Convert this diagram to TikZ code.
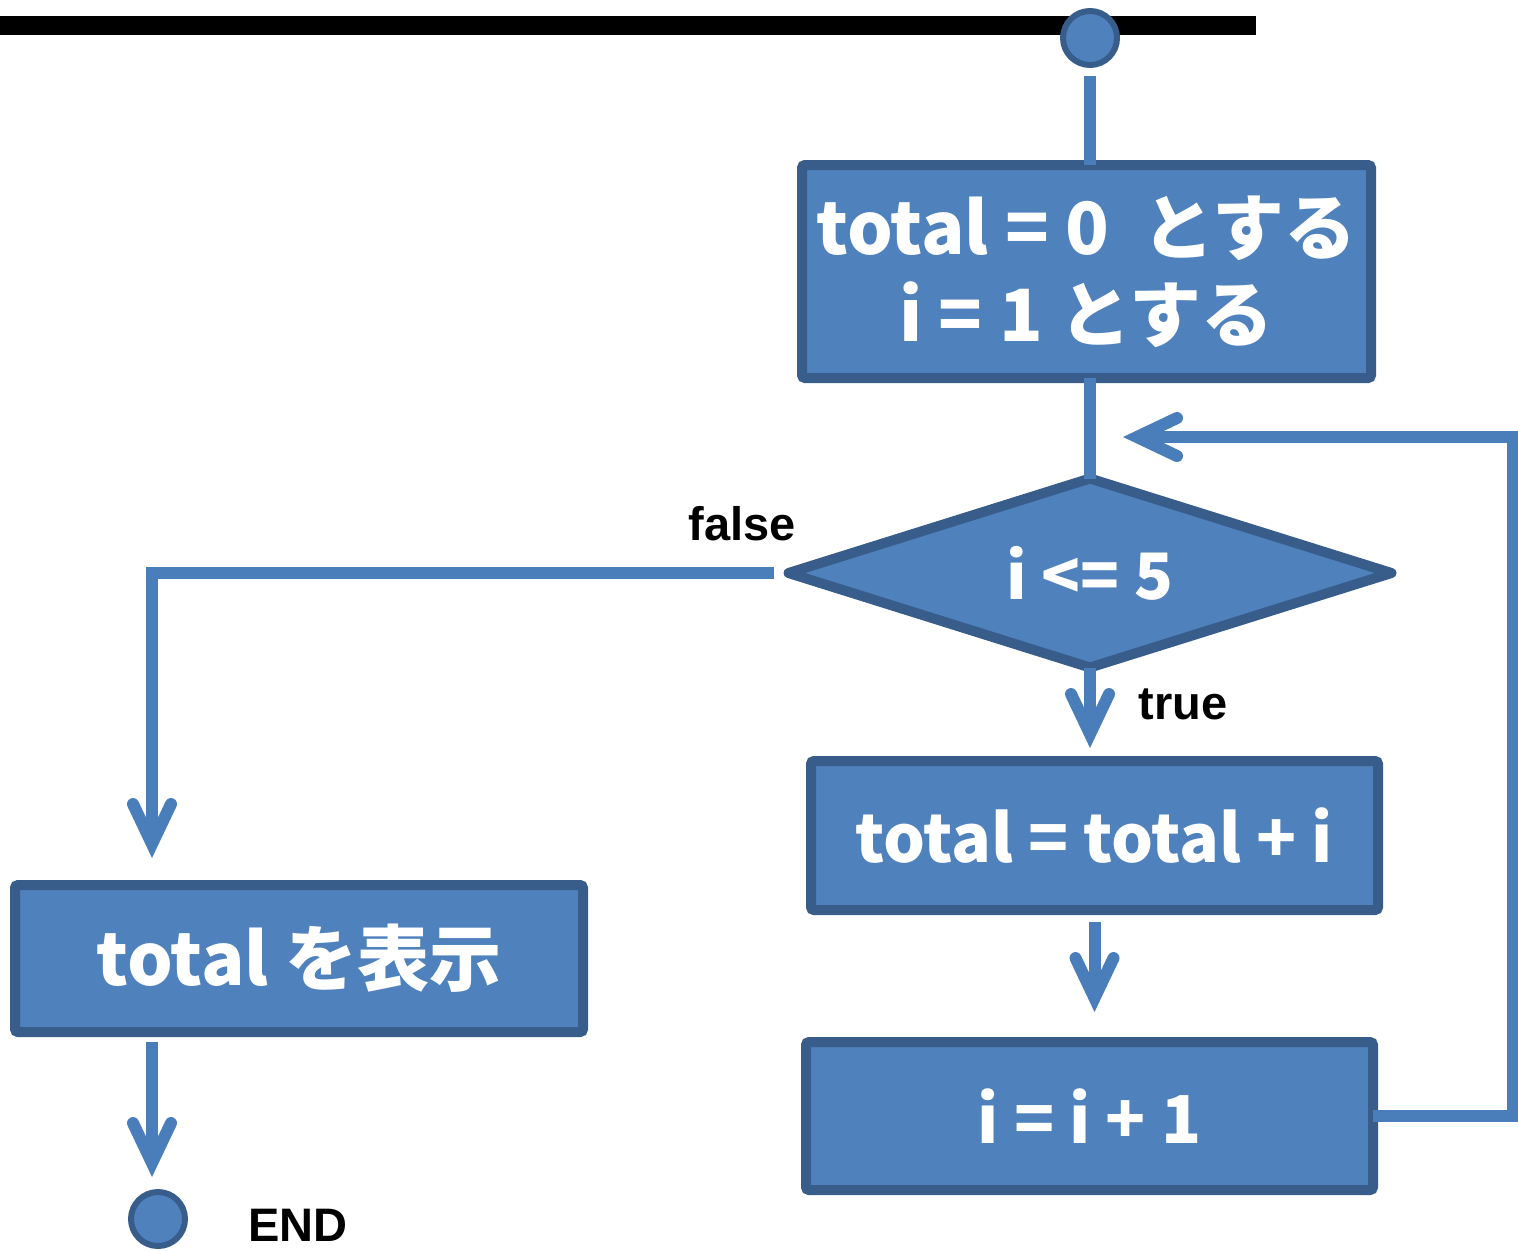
\documentclass[tikz,border=0pt]{standalone}
\usepackage{fontspec}
\setmainfont{Liberation Sans}
\newfontfamily\jp{Noto Sans CJK JP}
\usetikzlibrary{arrows.meta,shapes.geometric}
\definecolor{fillb}{HTML}{4F81BD}
\definecolor{edgeb}{HTML}{385D8A}
\definecolor{lineb}{HTML}{4A7EBB}
\begin{document}
\begin{tikzpicture}[x=0.5pt,y=-0.5pt,
  box/.style={draw=edgeb, fill=fillb, line width=5pt, rounded corners=1.5pt,
    inner sep=0pt, outer sep=0pt, text=white, align=center,
    font=\jp\bfseries\fontsize{36}{43.5}\selectfont},
  dec/.style={diamond, aspect=3.2, draw=edgeb, fill=fillb, line width=5pt, line join=round,
    inner sep=0pt, outer sep=0pt, text=white,
    font=\jp\bfseries\fontsize{32}{38}\selectfont},
  term/.style={circle, draw=edgeb, fill=fillb, line width=3pt, minimum size=27pt,
    inner sep=0pt, outer sep=0pt},
  conn/.style={draw=lineb, line width=6pt},
  arr/.style={conn, -{Straight Barb[length=20pt, width=19pt, line cap=round, line join=miter]}},
  lbl/.style={font=\bfseries\fontsize{23.5}{28}\selectfont, text=black, inner sep=0pt}]
\useasboundingbox (0,0) rectangle (1518,1250);
\fill[black] (0,16) rectangle (1256,35);

\node[term] (start) at (1090,38) {};
\node[box, minimum width=284.5pt, minimum height=106.5pt] (box1) at (1086.5,271.5)
  {total = 0 \ とする\\ i = 1 とする};
\node[dec, minimum width=301.5pt, minimum height=94.5pt] (dia) at (1090,573) {i <= 5};
\node[box, minimum width=283.5pt, minimum height=74.5pt, font=\jp\bfseries\fontsize{33}{40}\selectfont]
  (box2) at (1094.5,835.5) {total = total + i};
\node[box, minimum width=283.5pt, minimum height=74pt, font=\jp\bfseries\fontsize{33}{40}\selectfont]
  (box3) at (1089.5,1116) {i = i + 1};
\node[box, minimum width=284pt, minimum height=73.5pt] (box4) at (299,958.5) {total を表示};
\node[term] (endc) at (158,1219) {};

\node[lbl] (lfalse) at (742,524) {false};
\node[lbl] (ltrue) at (1183,704) {true};
\node[lbl] (lend) at (298,1225) {END};

\coordinate (fc) at (152,573);
\coordinate (lr) at (1513,1116);
\coordinate (ur) at (1513,437);
\coordinate (looptip) at (1123,437);

\draw[conn, shorten <=19pt] (start.center) -- (start.center |- box1.north);
\draw[conn] (box1.south -| dia.north) -- (dia.north);
\draw[arr, shorten >=6.5pt] (dia.south) -- (box2.north -| dia.south);
\draw[arr, shorten <=6pt, shorten >=15pt] (box2.south) -- (box3.north -| box2.south);
\draw[arr, line join=miter] (box3.east) -- (lr) -- (ur) -- (looptip);
\draw[arr, line join=miter, shorten <=7.5pt, shorten >=13.5pt] (dia.west) -- (fc) -- (fc |- box4.north);
\draw[arr, shorten <=5pt, shorten >=7.5pt] (fc |- box4.south) -- (fc |- endc.north);
\end{tikzpicture}
\end{document}
